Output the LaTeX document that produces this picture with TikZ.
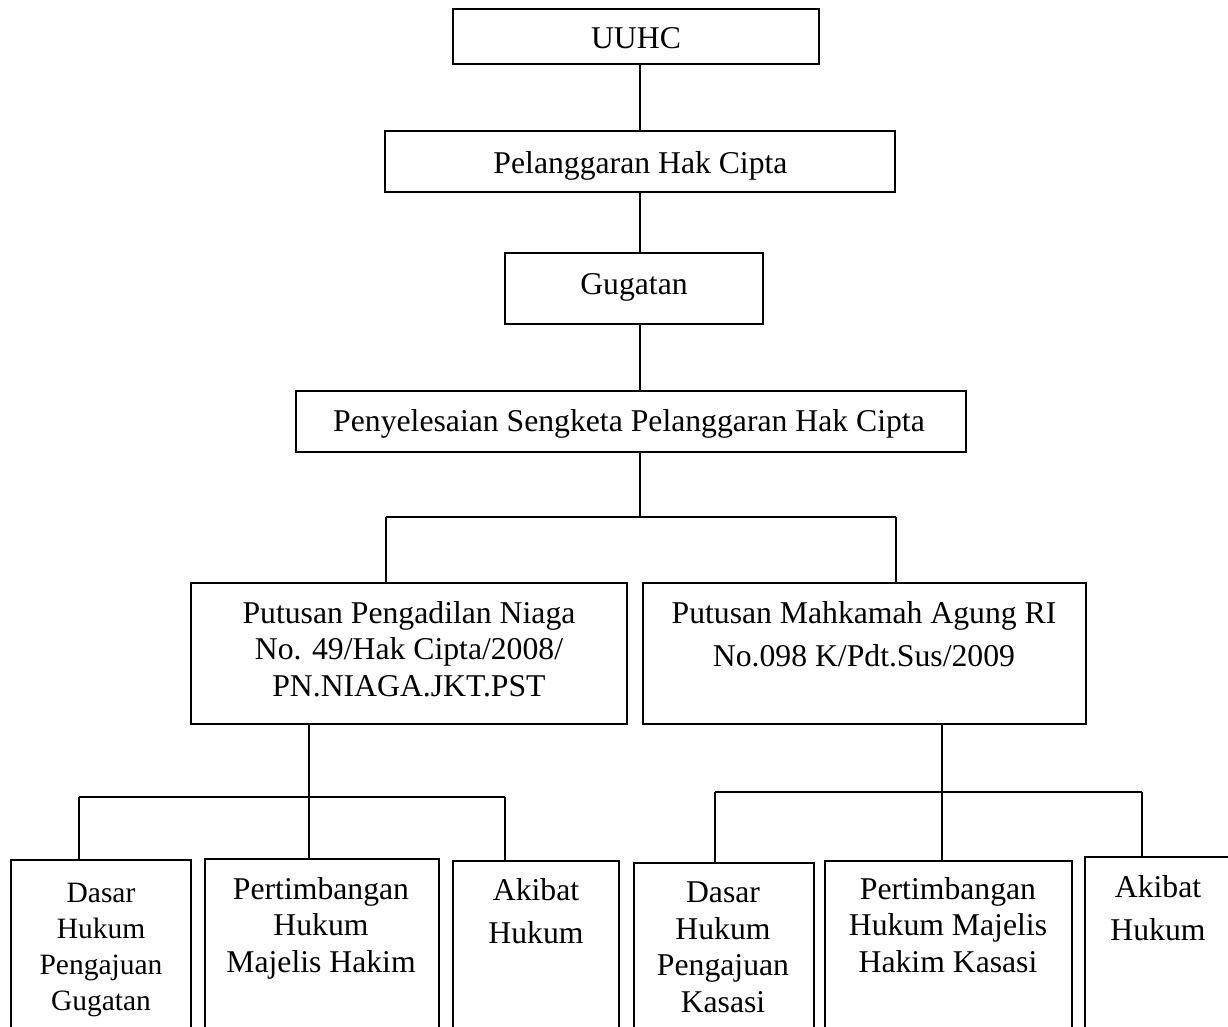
\documentclass[tikz,border=0pt]{standalone}
\usepackage{fontspec}
\setmainfont{Liberation Serif}
\begin{document}
\begin{tikzpicture}[x=1pt,y=-1pt,
  box/.style={draw, line width=1.8pt, rectangle, inner sep=0pt},
  txt/.style={inner sep=0pt, anchor=base, align=center, font=\fontsize{31.7}{36.5}\selectfont},
  stxt/.style={txt, font=\fontsize{29.5}{36}\selectfont},
  conn/.style={line width=1.5pt}]
\path[use as bounding box, fill=white] (0,0) rectangle (1228,1026);
\clip (0,0) rectangle (1228,1026);
% boxes
\node[box, minimum width=366pt, minimum height=55pt]  (uuhc) at (636,36.5) {};
\node[box, minimum width=510pt, minimum height=61pt]  (pel)  at (640,161.5) {};
\node[box, minimum width=258pt, minimum height=71pt]  (gug)  at (634,288.5) {};
\node[box, minimum width=670pt, minimum height=61pt]  (pen)  at (631,421.5) {};
\node[box, minimum width=436pt, minimum height=141pt] (pnL)  at (409,653.5) {};
\node[box, minimum width=443pt, minimum height=141pt] (pnR)  at (864.5,653.5) {};
\node[box, minimum width=180pt, minimum height=200pt] (b1) at (101,960) {};
\node[box, minimum width=234pt, minimum height=200pt] (b2) at (322,959) {};
\node[box, minimum width=166pt, minimum height=200pt] (b3) at (536,961) {};
\node[box, minimum width=180pt, minimum height=200pt] (b4) at (724,963) {};
\node[box, minimum width=247pt, minimum height=200pt] (b5) at (948.5,961) {};
\node[box, minimum width=165pt, minimum height=200pt] (b6) at (1167.5,957) {};
% texts (anchor = baseline of last line)
\node[txt] (uuhc-t) at (636,48) {UUHC};
\node[txt] (pel-t) at (640.5,173) {Pelanggaran Hak Cipta};
\node[txt] (gug-t) at (634,294) {Gugatan};
\node[txt] (pen-t) at (629,431) {Penyelesaian Sengketa Pelanggaran Hak Cipta};
\node[txt] (pnL-t) at (409,696) {Putusan Pengadilan Niaga\\No. 49/Hak Cipta/2008/\\PN.NIAGA.JKT.PST};
\node[txt] (pnR-t) at (864,666) {Putusan Mahkamah Agung RI\\[6.5pt]No.098 K/Pdt.Sus/2009};
\node[stxt] (b1-t) at (101,1010) {Dasar\\Hukum\\Pengajuan\\Gugatan};
\node[txt] (b2-t) at (321,972) {Pertimbangan\\Hukum\\Majelis Hakim};
\node[txt] (b3-t) at (536,943) {Akibat\\[6pt]Hukum};
\node[txt] (b4-t) at (723,1012) {Dasar\\Hukum\\Pengajuan\\Kasasi};
\node[txt] (b5-t) at (948,972) {Pertimbangan\\Hukum Majelis\\Hakim Kasasi};
\node[txt] (b6-t) at (1158,940) {Akibat\\[6pt]Hukum};
% junctions
\coordinate (j1)  at (640,517);
\coordinate (j1L) at (386,517);
\coordinate (j1R) at (896,517);
\coordinate (j2)  at (309,797);
\coordinate (j2L) at (79,797);
\coordinate (j2R) at (505,797);
\coordinate (j3)  at (942,792);
\coordinate (j3L) at (715,792);
\coordinate (j3R) at (1142,792);
% connectors
\draw[conn] (uuhc.south -| pel.north) -- (pel.north);
\draw[conn] (pel.south) -- (pel.south |- gug.north);
\draw[conn] (pel.south |- gug.south) -- (pel.south |- pen.north);
\draw[conn] (pel.south |- pen.south) -- (j1);
\draw[conn] (j1L) -- (j1R);
\draw[conn] (j1L) -- (j1L |- pnL.north);
\draw[conn] (j1R) -- (j1R |- pnR.north);
\draw[conn] (j2 |- pnL.south) -- (j2);
\draw[conn] (j2L) -- (j2R);
\draw[conn] (j2L) -- (j2L |- b1.north);
\draw[conn] (j2) -- (j2 |- b2.north);
\draw[conn] (j2R) -- (j2R |- b3.north);
\draw[conn] (j3 |- pnR.south) -- (j3);
\draw[conn] (j3L) -- (j3R);
\draw[conn] (j3L) -- (j3L |- b4.north);
\draw[conn] (j3) -- (j3 |- b5.north);
\draw[conn] (j3R) -- (j3R |- b6.north);
\end{tikzpicture}
\end{document}
